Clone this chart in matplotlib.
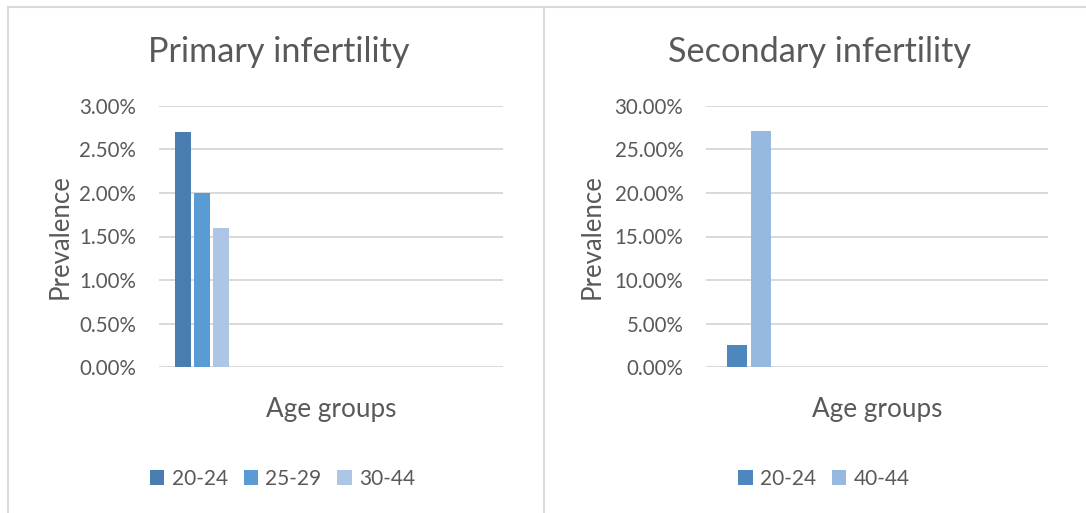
import matplotlib
matplotlib.use("Agg")
import matplotlib.pyplot as plt
from matplotlib.lines import Line2D
from matplotlib.ticker import FuncFormatter

plt.rcParams['font.family'] = ['Lato', 'DejaVu Sans']

# data
primary_groups = ["20-24", "25-29", "30-44"]
primary_values = [2.70, 2.00, 1.60]
primary_colors = ["#497db0", "#5b9bd5", "#adc6e5"]

secondary_groups = ["20-24", "40-44"]
secondary_values = [2.6, 27.1]
secondary_colors = ["#4e86be", "#97b8df"]

text_col = "#595959"
grid_col = "#d9d9d9"

W, H = 1086, 513
fig = plt.figure(figsize=(W / 100, H / 100), dpi=100)


def px_axes(x0, x1, ytop, ybot):
    return fig.add_axes([x0 / W, 1 - ybot / H, (x1 - x0) / W, (ybot - ytop) / H])


def style(ax, ymax, step, ylab_x):
    ax.set_xlim(0, 4)
    ax.set_ylim(0, ymax)
    ax.set_yticks([i * step for i in range(int(round(ymax / step)) + 1)])
    ax.yaxis.set_major_formatter(FuncFormatter(lambda v, p: f"{v:.2f}%"))
    ax.set_xticks([])
    for s in ax.spines.values():
        s.set_visible(False)
    ax.tick_params(axis='y', length=0, pad=16.5, labelsize=14.8, labelcolor=text_col)
    ax.grid(axis='y', color=grid_col, linewidth=1.4)
    ax.set_axisbelow(True)
    ax.set_ylabel("Prevalence", fontsize=18.5, color=text_col, va='center')
    ax.yaxis.set_label_coords(ylab_x, 0.5)
    ax.set_xlabel("Age groups", fontsize=18.8, color=text_col)
    ax.xaxis.set_label_coords(0.5, -0.16)
    ax.xaxis.label.set_va('center')


def legend(ax, cx, ncol):
    ax.legend(loc='center', bbox_to_anchor=(cx / W, 1 - 479 / H), bbox_transform=fig.transFigure,
              ncol=ncol, frameon=False, fontsize=15, labelcolor=text_col, handlelength=0.7,
              handleheight=0.7, handletextpad=0.35, columnspacing=0.75)


# Primary infertility
ax1 = px_axes(159, 503, 105.7, 367.3)
offsets1 = [-0.22, 0.0, 0.22]
for g, v, c, o in zip(primary_groups, primary_values, primary_colors, offsets1):
    ax1.bar(0.5 + o, v, width=0.18, color=c, label=g, zorder=3)
style(ax1, 3.0, 0.5, -0.288)
legend(ax1, 282.5, 3)
fig.text(279 / W, 1 - 52 / H, "Primary infertility", ha='center', va='center', fontsize=24.7, color=text_col)

# Secondary infertility
ax2 = px_axes(706.3, 1048, 105.7, 367.3)
offsets2 = [-0.14, 0.14]
for g, v, c, o in zip(secondary_groups, secondary_values, secondary_colors, offsets2):
    ax2.bar(0.5 + o, v, width=0.226, color=c, label=g, zorder=3)
style(ax2, 30.0, 5.0, -0.334)
legend(ax2, 824, 2)
fig.text(819 / W, 1 - 52 / H, "Secondary infertility", ha='center', va='center', fontsize=24.7, color=text_col)

# chart frames
border = "#d9d9d9"
fig.add_artist(Line2D([8 / W, 1], [1 - 6.5 / H, 1 - 6.5 / H], color=border, linewidth=1.5))
fig.add_artist(Line2D([8 / W, 8 / W], [0, 1 - 6.5 / H], color=border, linewidth=1.5))
fig.add_artist(Line2D([543.5 / W, 543.5 / W], [0, 1 - 6.5 / H], color=border, linewidth=1.5))

fig.savefig("out.png", dpi=100)
